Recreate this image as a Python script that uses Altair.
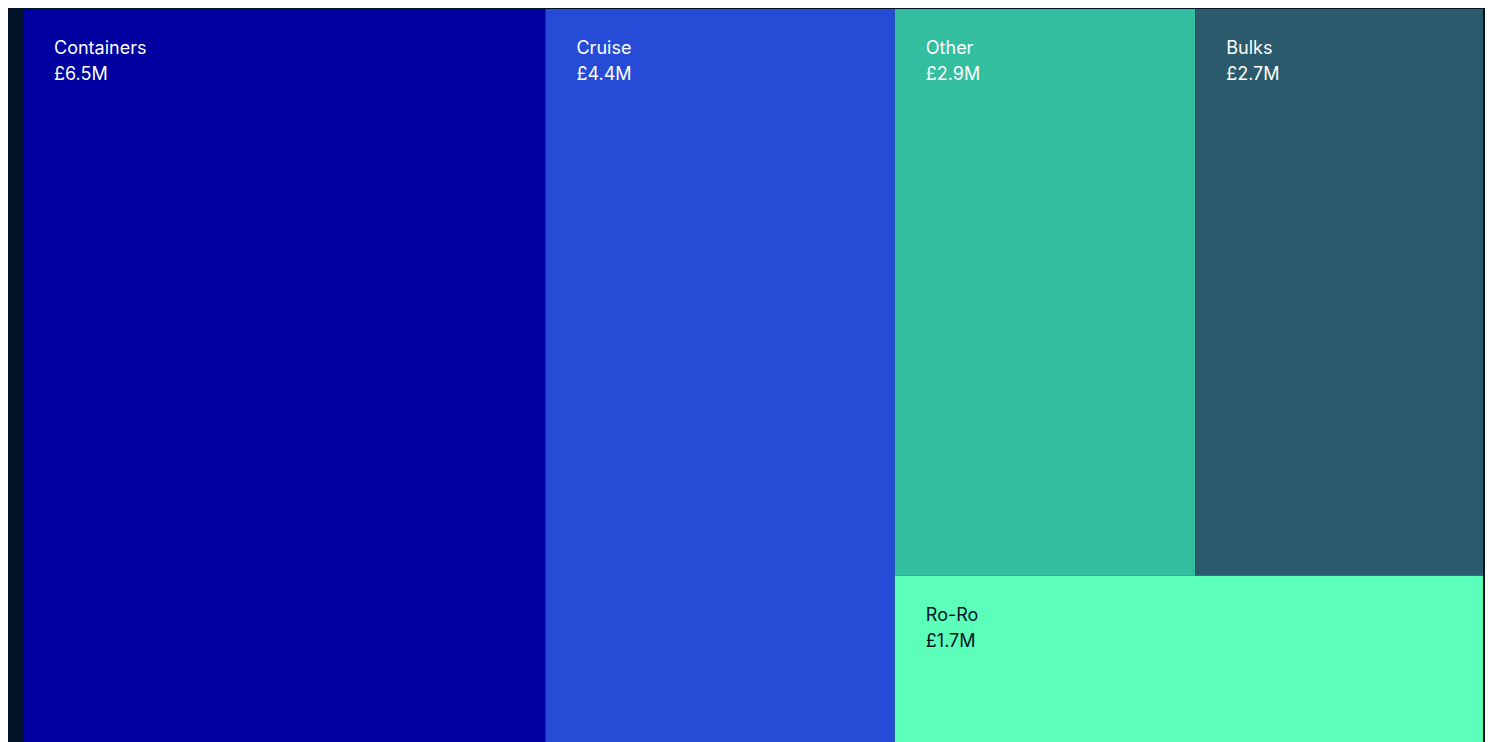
import altair as alt
import pandas as pd

# ---- data ----
names = ["Containers", "Cruise", "Other", "Bulks", "Ro-Ro"]
values = [6.52, 4.36, 2.86, 2.74, 1.74]          # £ millions
fills = ["#0000A0", "#264BD6", "#33BE9F", "#2A5A6B", "#5CFFBA"]
text_colors = ["#FFFFFF", "#FFFFFF", "#FFFFFF", "#FFFFFF", "#011328"]
# treemap structure: columns, each column a list of rows, each row a list of names
layout = [[["Containers"]], [["Cruise"]], [["Other", "Bulks"], ["Ro-Ro"]]]

BG = "#011328"

# ---- treemap layout in value space (x: cumulative value, y: fraction 0..1 from top) ----
val = dict(zip(names, values))
total = sum(values)
rects = []
x_cursor = 0.0
for column in layout:
    col_sum = sum(val[n] for row in column for n in row)
    col_x1 = x_cursor + col_sum
    y_cursor = 0.0
    for row in column:
        row_sum = sum(val[n] for n in row)
        row_y1 = y_cursor + row_sum / col_sum
        rx = x_cursor
        for n in row:
            w = col_sum * val[n] / row_sum
            rects.append({"name": n, "value": val[n], "x0": rx, "x1": rx + w,
                          "y0": y_cursor, "y1": row_y1})
            rx += w
        y_cursor = row_y1
    x_cursor = col_x1

df = pd.DataFrame(rects)
df["fill"] = df["name"].map(dict(zip(names, fills)))
df["tcolor"] = df["name"].map(dict(zip(names, text_colors)))

xs = alt.Scale(domain=[0, total], nice=False, zero=False)
ys = alt.Scale(domain=[0, 1], nice=False, zero=False, reverse=True)

base = alt.Chart(df)

boxes = base.mark_rect(strokeWidth=0).encode(
    x=alt.X("x0:Q", scale=xs, axis=None),
    x2="x1:Q",
    y=alt.Y("y0:Q", scale=ys, axis=None),
    y2="y1:Q",
    color=alt.Color("fill:N", scale=None),
    tooltip=["name:N", "value:Q"],
)

label_name = base.mark_text(
    align="left", baseline="alphabetic", dx=31, dy=45,
    font="Inter", fontSize=18, fontWeight=400,
).encode(
    x=alt.X("x0:Q", scale=xs, axis=None),
    y=alt.Y("y0:Q", scale=ys, axis=None),
    text="name:N",
    color=alt.Color("tcolor:N", scale=None),
)

label_value = base.transform_calculate(
    vlabel="'£' + format(datum.value, '.1f') + 'M'"
).mark_text(
    align="left", baseline="alphabetic", dx=31, dy=71,
    font="Inter", fontSize=18, fontWeight=400,
).encode(
    x=alt.X("x0:Q", scale=xs, axis=None),
    y=alt.Y("y0:Q", scale=ys, axis=None),
    text="vlabel:N",
    color=alt.Color("tcolor:N", scale=None),
)

chart = (boxes + label_name + label_value).properties(
    width=1460,
    height=743,
    background=BG,
    padding={"left": 15, "top": 1, "right": 2, "bottom": 0},
    autosize=alt.AutoSizeParams(type="none"),
).configure_view(stroke=None)

chart.save("out.html", embed_options={"renderer": "svg", "actions": False})
